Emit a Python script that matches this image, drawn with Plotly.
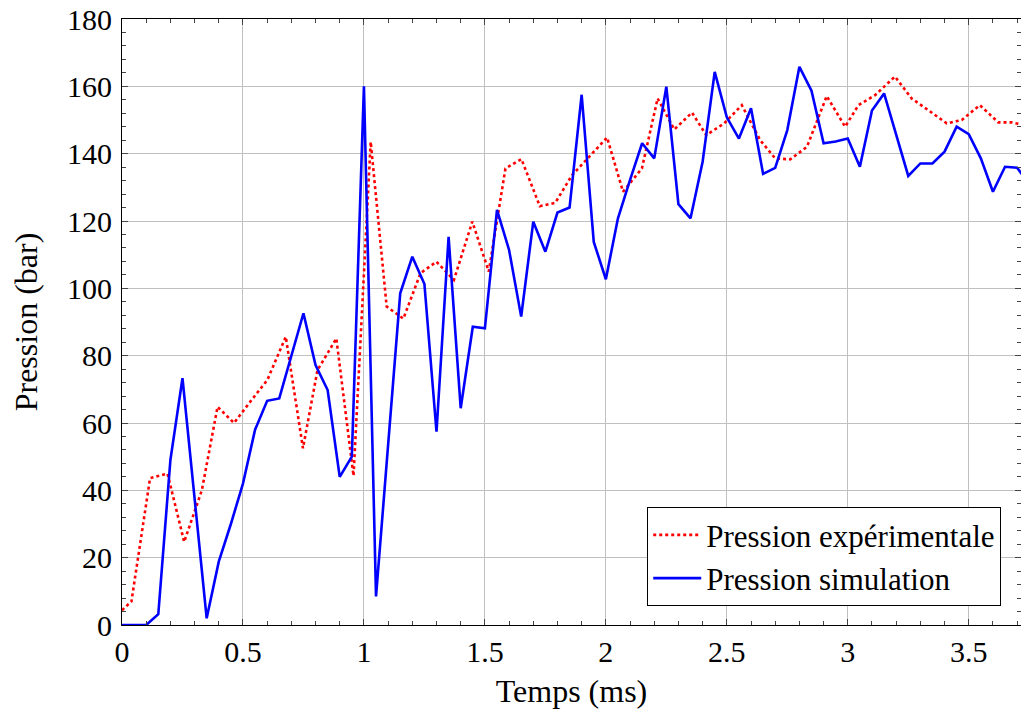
import plotly.graph_objects as go

# Simulation pressure (bar) vs time (ms)
sim_t = [0.00, 0.10, 0.15, 0.20, 0.25, 0.35, 0.40, 0.45, 0.50, 0.55, 0.60, 0.65,
         0.75, 0.80, 0.85, 0.90, 0.95, 1.00, 1.05, 1.15, 1.20, 1.25, 1.30, 1.35,
         1.40, 1.45, 1.50, 1.55, 1.60, 1.65, 1.70, 1.75, 1.80, 1.85, 1.90, 1.95,
         2.00, 2.05, 2.10, 2.15, 2.20, 2.25, 2.30, 2.35, 2.40, 2.45, 2.50, 2.55,
         2.60, 2.65, 2.70, 2.75, 2.80, 2.85, 2.90, 2.95, 3.00, 3.05, 3.10, 3.15,
         3.25, 3.30, 3.35, 3.40, 3.45, 3.50, 3.55, 3.60, 3.65, 3.70, 3.75]
sim_p = [0, 0, 3.2, 49, 73.3, 2, 18.8, 30, 42, 58, 66.6, 67.3,
         92.6, 77.2, 69.8, 44, 50, 160, 8.5, 98.5, 109.4, 101.3, 57.4, 115.3,
         64.4, 88.6, 88.1, 123.3, 111.4, 91.6, 119.8, 110.9, 122.5, 124, 157.5, 113.8,
         102.7, 120.8, 132.2, 143.1, 138.6, 159.9, 125, 120.8, 137.6, 164.3, 150.8, 144.5,
         153.5, 134, 135.8, 147, 165.8, 158.7, 143.1, 143.6, 144.5, 136.1, 152.8, 157.9,
         133.4, 137.1, 137.1, 140.6, 148, 145.8, 138.6, 128.7, 136.1, 135.8, 131]

# Experimental pressure (bar) vs time (ms)
exp_t = [0.0, 0.039, 0.116, 0.188, 0.257, 0.33, 0.395, 0.463, 0.532, 0.601, 0.677,
         0.748, 0.808, 0.886, 0.957, 1.028, 1.094, 1.163, 1.234, 1.300, 1.372,
         1.448, 1.516, 1.585, 1.651, 1.727, 1.791, 1.860, 1.943, 2.005, 2.071,
         2.149, 2.214, 2.283, 2.356, 2.415, 2.489, 2.562, 2.638, 2.700, 2.762,
         2.831, 2.913, 2.989, 3.044, 3.113, 3.195, 3.264, 3.333, 3.409, 3.471,
         3.546, 3.622, 3.677, 3.74]
exp_p = [4.4, 7, 43.6, 45, 24.7, 40, 64.8, 60, 66.5, 72.8, 85.6,
         52.5, 75.7, 85.1, 44.3, 143.5, 94.6, 91, 104.5, 107.9, 102.5,
         119.8, 105, 135.6, 138.4, 124.4, 125.4, 133.6, 140, 144.8, 128.7,
         135.6, 156.4, 147.2, 152.2, 145.5, 149, 154.4, 144, 138.6, 138.3,
         142, 157.1, 148, 154.4, 157.4, 162.9, 156.4, 152.9, 149, 150,
         154.4, 149.3, 149.3, 148.3]

x_ticks = [0, 0.5, 1, 1.5, 2, 2.5, 3, 3.5]
x_tick_labels = ["0", "0.5", "1", "1.5", "2", "2.5", "3", "3.5"]
y_ticks = [0, 20, 40, 60, 80, 100, 120, 140, 160, 180]

FONT = "Liberation Serif, Times New Roman, serif"

fig = go.Figure()
fig.add_trace(go.Scatter(x=exp_t, y=exp_p, mode="lines", name="Pression expérimentale",
                         line=dict(color="#ff0000", width=2.6, dash="dot")))
fig.add_trace(go.Scatter(x=sim_t, y=sim_p, mode="lines", name="Pression simulation",
                         line=dict(color="#0000ff", width=2.6)))

axis_common = dict(
    showline=True, linecolor="black", linewidth=1.2, mirror="ticks",
    showgrid=True, gridcolor="#c0c0c0", gridwidth=1,
    ticks="inside", ticklen=6, tickcolor="#444", tickwidth=1,
    tickfont=dict(family=FONT, size=30, color="black"),
    zeroline=False, automargin=False, ticklabeloverflow="allow",
)

fig.update_layout(
    width=1021, height=713,
    margin=dict(l=122, r=0, t=19, b=88, autoexpand=False),
    paper_bgcolor="white", plot_bgcolor="white",
    font=dict(family=FONT, size=30, color="black"),
    showlegend=True,
    legend=dict(x=0.978, y=0.031, xanchor="right", yanchor="bottom",
                bordercolor="black", borderwidth=1, bgcolor="white",
                font=dict(family=FONT, size=31, color="black"),
                tracegroupgap=0, itemwidth=48),
    xaxis=dict(range=[0, 3.716], tickvals=x_ticks, ticktext=x_tick_labels,
               title=dict(text="Temps (ms)", font=dict(family=FONT, size=32), standoff=12),
               minor=dict(dtick=0.1, ticks="inside", ticklen=4, tickcolor="#444", showgrid=False),
               **axis_common),
    yaxis=dict(range=[0, 180], tickvals=y_ticks, ticklabelstandoff=3,
               title=dict(text="Pression (bar)", font=dict(family=FONT, size=32), standoff=19),
               minor=dict(dtick=4, ticks="inside", ticklen=4, tickcolor="#444", showgrid=False),
               **axis_common),
)

fig.write_html("out.html", config={"displayModeBar": False},
               post_script="document.body.style.margin='0';document.body.style.overflow='hidden';")
